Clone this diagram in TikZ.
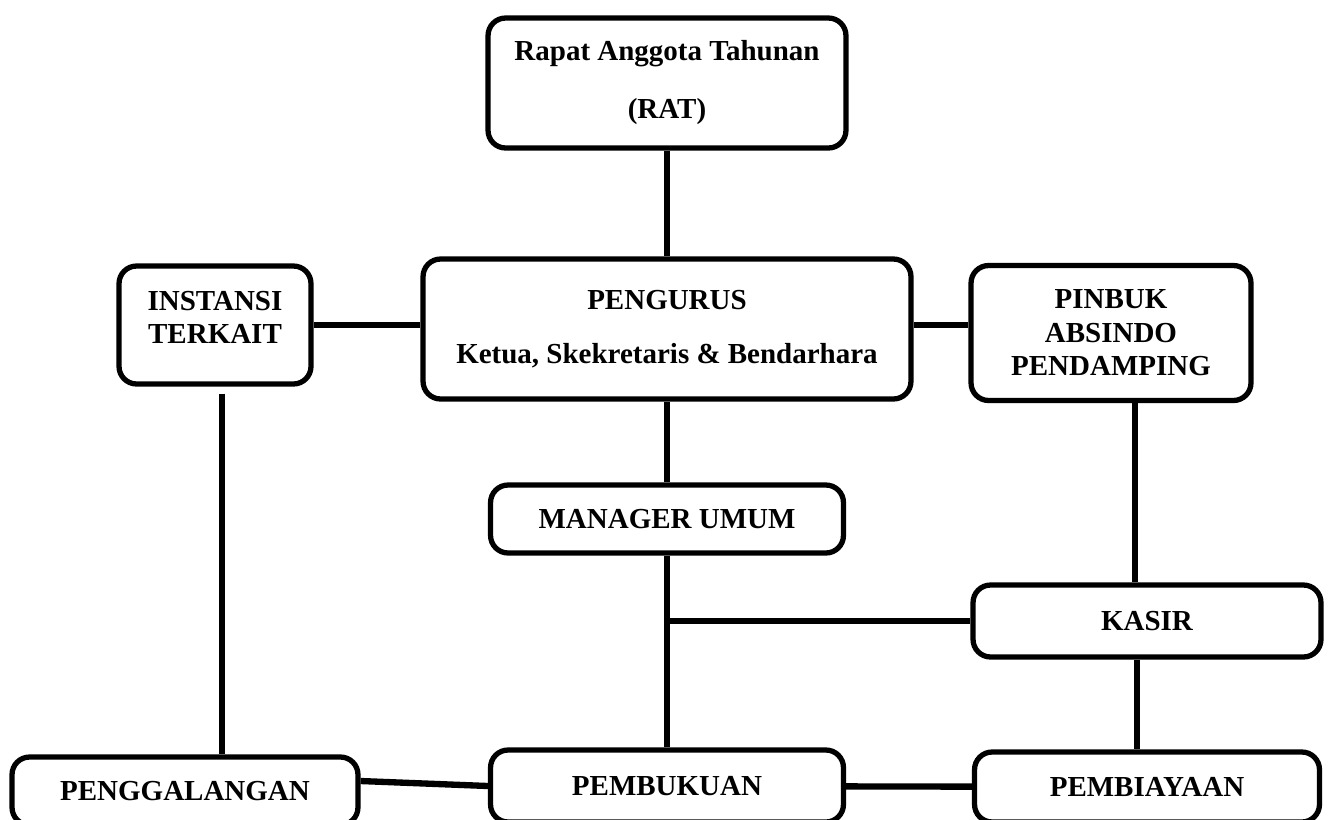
\documentclass[tikz,border=0pt]{standalone}
\usepackage{fontspec}
\setmainfont{Liberation Serif}
\usetikzlibrary{positioning}
\tikzset{Unit/.style={draw, line width=3pt, rounded corners=10pt, align=center, inner sep=2pt,
                      font=\bfseries\fontsize{16.5}{19}\selectfont},
         Link/.style={line width=3.6pt}}

\begin{document}
\begin{tikzpicture}[x=0.02cm, y=-0.02cm]
  \clip (0,0) rectangle (1328,819);
  \node[Unit, minimum width=7.16cm, minimum height=2.6cm] (rat) at (667,83) {Rapat Anggota Tahunan\\[14pt](RAT)};
  \node[Unit, minimum width=9.76cm, minimum height=2.8cm] (pengurus) at (667,329) {PENGURUS\\[12pt]Ketua, Skekretaris \& Bendarhara};
  \node[Unit, minimum width=3.84cm, minimum height=2.36cm] (instansi) at (215,325) {INSTANSI\\TERKAIT\\[-10pt]\mbox{}};
  \node[Unit, minimum width=5.6cm, minimum height=2.7cm] (pinbuk) at (1111,333) {PINBUK\\ABSINDO\\PENDAMPING};
  \node[Unit, minimum width=7.06cm, minimum height=1.36cm] (manager) at (667,519) {MANAGER UMUM};
  \node[Unit, minimum width=6.96cm, minimum height=1.44cm] (kasir) at (1147,621) {KASIR};
  \node[Unit, minimum width=7.06cm, minimum height=1.44cm] (pembukuan) at (667,786) {PEMBUKUAN};
  \node[Unit, minimum width=6.9cm, minimum height=1.4cm] (pembiayaan) at (1147,787) {PEMBIAYAAN};
  \node[Unit, minimum width=6.92cm, minimum height=1.36cm] (penggalangan) at (185,791) {PENGGALANGAN};
  \coordinate (mid) at (manager.south |- kasir.west);
  \draw[Link] (rat) -- (pengurus);
  \draw[Link] (instansi.east) -- (instansi.east -| pengurus.west);
  \draw[Link] (pengurus.east |- instansi.east) -- (pinbuk.west |- instansi.east);
  \draw[Link] (pengurus) -- (manager);
  \draw[Link] (manager.south) -- (manager.south |- pembukuan.north);
  \draw[Link] (mid) -- (kasir.west);
  \draw[Link] ([xshift=0.14cm, yshift=-0.14cm]instansi.south) -- ([xshift=0.14cm]instansi.south |- penggalangan.north);
  \draw[Link] ([xshift=0.48cm]pinbuk.south) -- ([xshift=0.48cm]pinbuk.south |- kasir.north);
  \draw[Link] ([xshift=-0.2cm]kasir.south) -- ([xshift=-0.2cm]kasir.south |- pembiayaan.north);
  \draw[Link] ([yshift=0.2cm]penggalangan.east) -- (pembukuan.west);
  \draw[Link] (pembukuan) -- (pembiayaan);
\end{tikzpicture}
\end{document}
